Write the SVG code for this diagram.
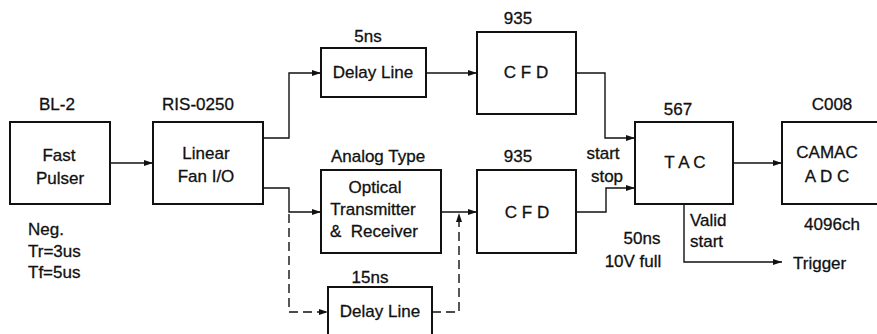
<svg xmlns="http://www.w3.org/2000/svg" width="877" height="334" viewBox="0 0 877 334">
  <style>
    .box { fill: #fff; stroke: #111; stroke-width: 2; }
    .wire { fill: none; stroke: #111; stroke-width: 1.4; }
    .dash { stroke-dasharray: 9 5; }
    text { font-family: "Liberation Sans", Arial, sans-serif; font-size: 17px; fill: #111; stroke: #111; stroke-width: 0.3; }
    .c { text-anchor: middle; }
  </style>
  <defs>
    <marker id="arrow" markerUnits="userSpaceOnUse" markerWidth="10" markerHeight="8" refX="9" refY="3" orient="auto">
      <path d="M0,0 L9,3 L0,6 z" fill="#111"/>
    </marker>
  </defs>

  <rect width="877" height="334" fill="#fff"/>

  <!-- signal connectors -->
  <g id="connectors">
    <path class="wire" d="M110,163 H153" marker-end="url(#arrow)"/>
    <path class="wire" d="M263,138 H289 V73 H321" marker-end="url(#arrow)"/>
    <path class="wire" d="M426,73 H477" marker-end="url(#arrow)"/>
    <path class="wire" d="M576,73 H605 V138 H635" marker-end="url(#arrow)"/>
    <path class="wire" d="M263,188 H289 V212 H321" marker-end="url(#arrow)"/>
    <path class="wire" d="M441,212 H477" marker-end="url(#arrow)"/>
    <path class="wire" d="M576,212 H606 V188 H635" marker-end="url(#arrow)"/>
    <path class="wire" d="M733,163 H782" marker-end="url(#arrow)"/>
    <path class="wire" d="M684,204 V262 H782" marker-end="url(#arrow)"/>
    <path class="wire dash" d="M289,214 V312 H328" marker-end="url(#arrow)"/>
    <path class="wire dash" d="M432,312 H459 V213" marker-end="url(#arrow)"/>
  </g>

  <g id="pulser">
    <rect class="box" x="10" y="122" width="100" height="82"/>
    <text class="c" x="57" y="110">BL-2</text>
    <text class="c" x="59" y="161">Fast</text>
    <text class="c" x="60" y="184">Pulser</text>
    <text x="28" y="235">Neg.</text>
    <text x="28" y="257">Tr=3us</text>
    <text x="28" y="278">Tf=5us</text>
  </g>

  <g id="fanout">
    <rect class="box" x="153" y="122" width="110" height="82"/>
    <text class="c" x="198" y="110">RIS-0250</text>
    <text class="c" x="206" y="159">Linear</text>
    <text class="c" x="206" y="182">Fan I/O</text>
  </g>

  <g id="delay5">
    <rect class="box" x="321" y="48" width="105" height="49"/>
    <text class="c" x="368" y="42">5ns</text>
    <text class="c" x="373" y="78">Delay Line</text>
  </g>

  <g id="cfd-top">
    <rect class="box" x="477" y="32" width="99" height="82"/>
    <text class="c" x="518" y="24">935</text>
    <text class="c" x="526" y="78">C F D</text>
  </g>

  <g id="optical">
    <rect class="box" x="321" y="170" width="120" height="83"/>
    <text class="c" x="378" y="162">Analog Type</text>
    <text class="c" x="375" y="193">Optical</text>
    <text class="c" x="373" y="215">Transmitter</text>
    <text class="c" x="374" y="237" xml:space="preserve">&amp;  Receiver</text>
  </g>

  <g id="cfd-bottom">
    <rect class="box" x="477" y="170" width="99" height="83"/>
    <text class="c" x="518" y="162">935</text>
    <text class="c" x="527" y="218">C F D</text>
  </g>

  <g id="delay15">
    <rect class="box" x="328" y="287" width="104" height="50"/>
    <text class="c" x="370" y="283">15ns</text>
    <text class="c" x="380" y="317">Delay Line</text>
  </g>

  <g id="tac">
    <rect class="box" x="635" y="122" width="98" height="82"/>
    <text class="c" x="678" y="115">567</text>
    <text class="c" x="685" y="168">T A C</text>
    <text class="c" x="603" y="159">start</text>
    <text class="c" x="607" y="182">stop</text>
    <text class="c" x="642" y="244">50ns</text>
    <text class="c" x="633" y="267">10V full</text>
    <text x="690" y="226">Valid</text>
    <text x="690" y="247">start</text>
    <text x="793" y="269">Trigger</text>
  </g>

  <g id="adc">
    <rect class="box" x="782" y="122" width="100" height="82"/>
    <text class="c" x="832" y="110">C008</text>
    <text class="c" x="827" y="158">CAMAC</text>
    <text class="c" x="827" y="182">A D C</text>
    <text class="c" x="832" y="230">4096ch</text>
  </g>
</svg>
